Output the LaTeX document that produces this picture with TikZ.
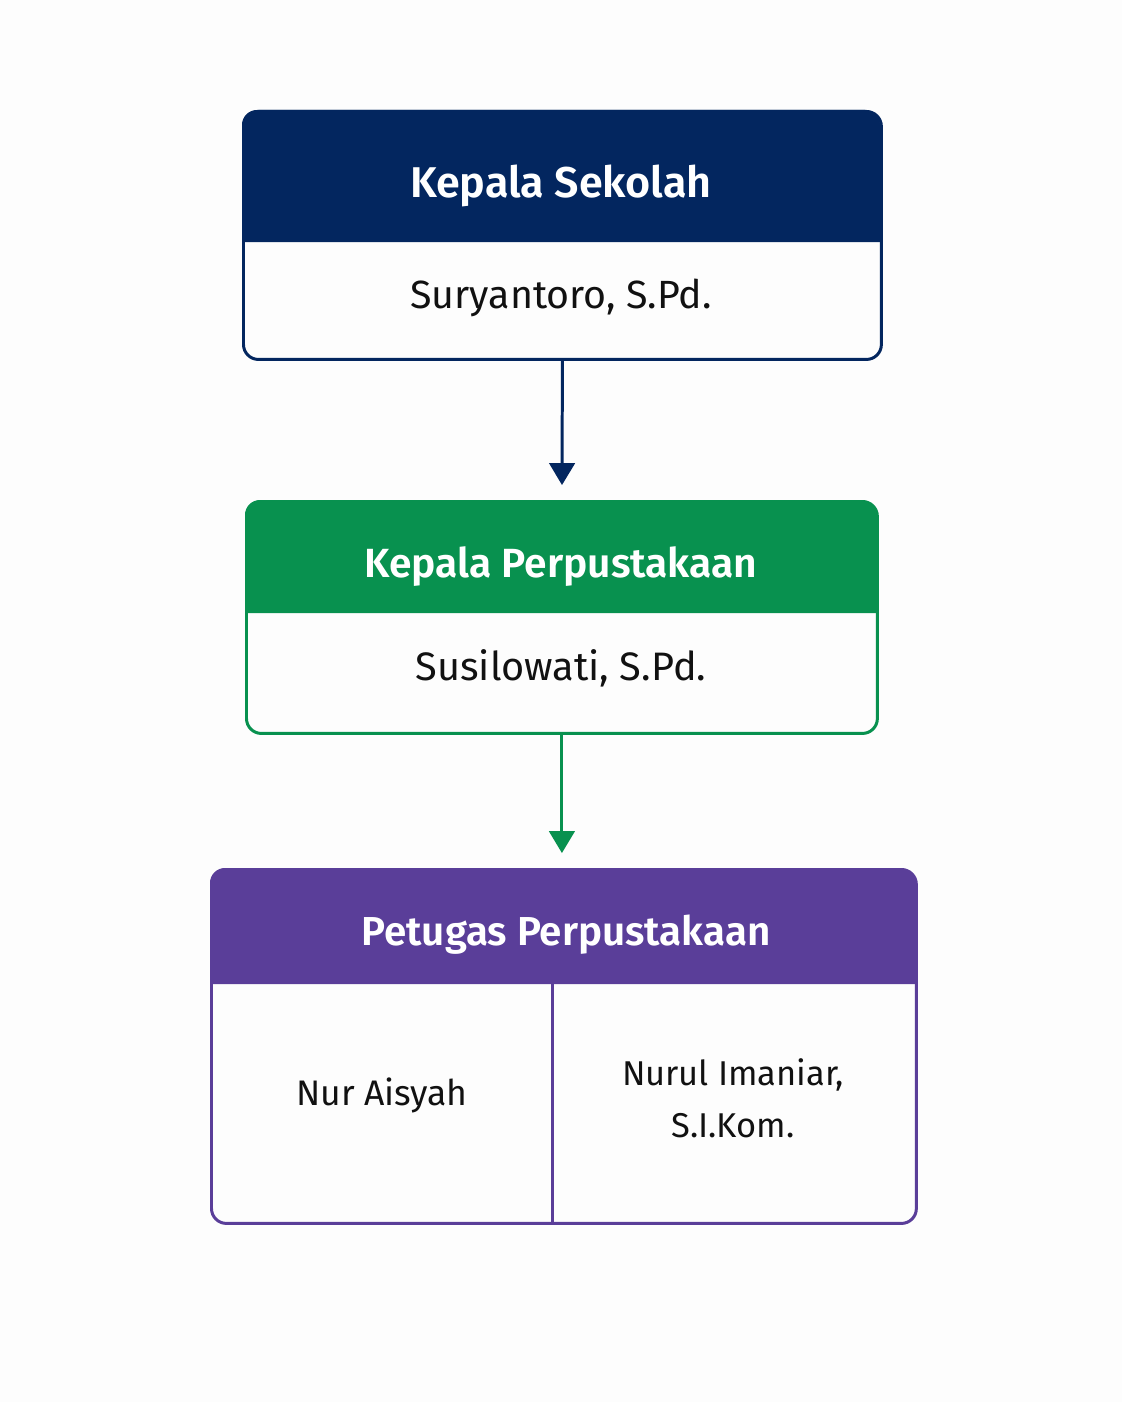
\documentclass[tikz,border=0pt]{standalone}
\usepackage{fontspec}
\setmainfont{Fira Sans}[BoldFont={Fira Sans SemiBold}]
\usetikzlibrary{arrows.meta}
\definecolor{navy}{HTML}{03265F}
\definecolor{grn}{HTML}{08914F}
\definecolor{purp}{HTML}{5A3E99}
\definecolor{ink}{HTML}{111111}
\definecolor{bg}{HTML}{FDFDFD}
\begin{document}
\begin{tikzpicture}[x=0.02cm,y=-0.02cm,
  card/.style={draw=#1, line width=1.7pt, rounded corners=8.5pt, inner sep=0pt, anchor=north west},
  headtxt/.style={text=white, font=\fontsize{#1}{28}\selectfont\bfseries, inner sep=0pt, anchor=base},
  nametxt/.style={text=ink, font=\fontsize{#1}{29.5}\selectfont, inner sep=0pt, align=center, anchor=base},
  link/.style={draw=#1, line width=1.7pt, -{Triangle[width=14.5pt,length=12.5pt]}, shorten >=8.5pt}]
\fill[bg] (0,0) rectangle (1122,1402);
\useasboundingbox (0,0) rectangle (1122,1402);
% box 1
\fill[navy] (242,242) [rounded corners=8.5pt] -- (242,110) -- (880,110) [sharp corners] -- (880,242) -- cycle;
\node[card=navy, minimum width=12.76cm, minimum height=4.96cm] (b1) at (242,110) {};
\node[headtxt=24.5] (t1) at (561,197) {Kepala Sekolah};
\node[nametxt=22.4] (n1) at (561,308) {Suryantoro, S.Pd.};
% box 2
\fill[grn] (245,613) [rounded corners=8.5pt] -- (245,500) -- (876,500) [sharp corners] -- (876,613) -- cycle;
\node[card=grn, minimum width=12.62cm, minimum height=4.64cm] (b2) at (245,500) {};
\node[headtxt=23.2] (t2) at (561,577) {Kepala Perpustakaan};
\node[nametxt=22.6] (n2) at (561,680) {Susilowati, S.Pd.};
% box 3
\fill[purp] (210,984) [rounded corners=8.5pt] -- (210,868) -- (915,868) [sharp corners] -- (915,984) -- cycle;
\node[card=purp, minimum width=14.1cm, minimum height=7.08cm] (b3) at (210,868) {};
\coordinate (d1) at (552,984);
\draw[purp, line width=1.7pt] (d1) -- (d1 |- b3.south);
\node[headtxt=23] (t3) at (566,945) {Petugas Perpustakaan};
\node[nametxt=20.2] (n3) at (382,1105) {Nur Aisyah};
\node[nametxt=19.6] (n4) at (733,1137) {Nurul Imaniar,\\S.I.Kom.};
% connectors
\draw[link=navy] (b1.south) -- (b2.north);
\draw[link=grn] (b2.south) -- (b2.south |- b3.north);
\end{tikzpicture}
\end{document}
